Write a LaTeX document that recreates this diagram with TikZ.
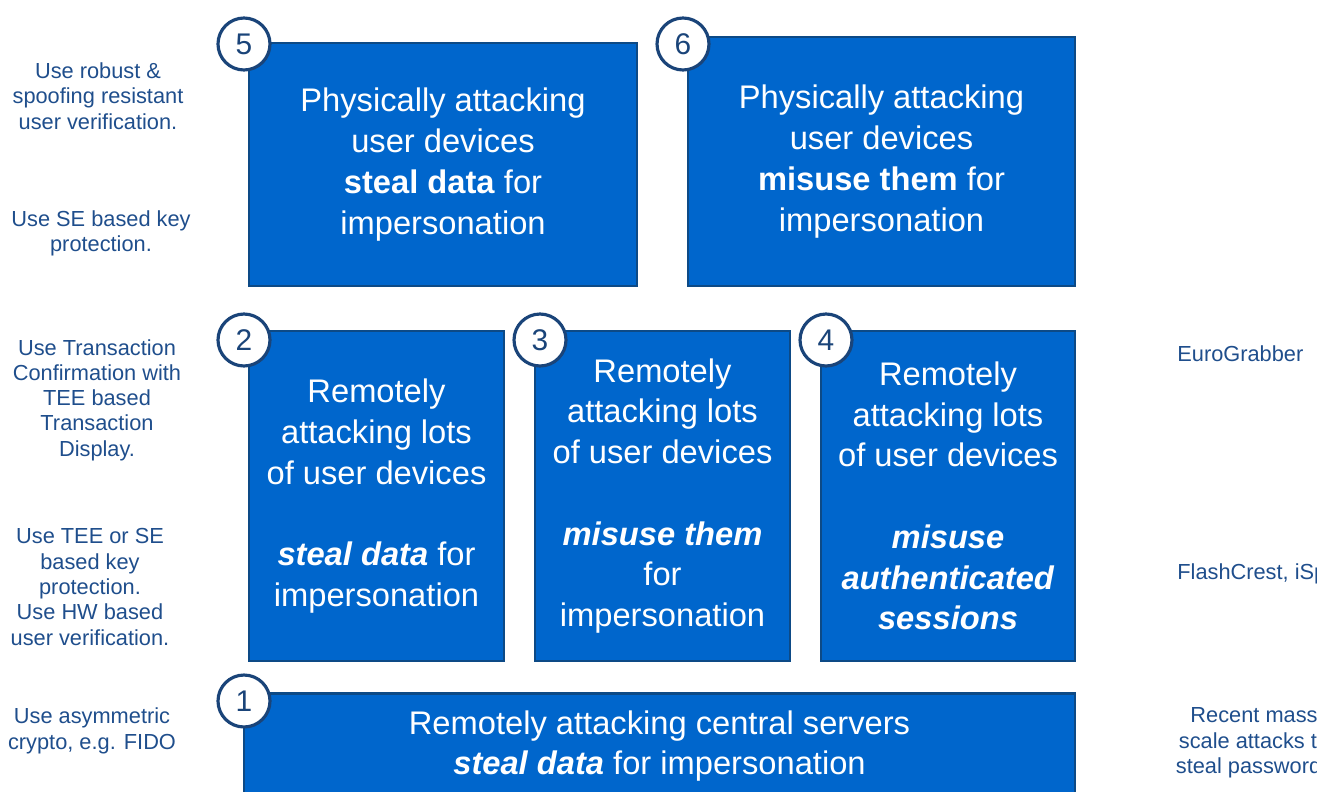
\documentclass[tikz,border=0pt]{standalone}
\usepackage{fontspec}
\setmainfont{Liberation Sans}
\definecolor{boxfill}{HTML}{0066CC}
\definecolor{boxline}{HTML}{0D4A86}
\definecolor{circline}{HTML}{1A4479}
\definecolor{sidetext}{HTML}{1F4E8C}
\tikzset{
  attack/.style={rectangle, draw=boxline, fill=boxfill, line width=1.6pt, inner sep=0pt,
    text=white, align=center, font=\fontsize{18.6}{23.2}\selectfont},
  numcirc/.style={circle, draw=circline, fill=white, line width=1.8pt, minimum size=1.04cm,
    inner sep=0pt, text=circline, font=\fontsize{17}{20}\selectfont},
  side/.style={align=center, text=sidetext, inner sep=0pt, font=\fontsize{12.4}{14.4}\selectfont}
}
\begin{document}
\begin{tikzpicture}[x=0.02cm, y=-0.02cm]
\useasboundingbox (0,0) rectangle (1317,791);
\clip (0,0) rectangle (1317,791);
\node[attack, minimum width=7.76cm, minimum height=4.86cm] (b5) at (443,164.5)
  {Physically attacking\\user devices\\\textbf{steal data} for\\impersonation};
\node[attack, minimum width=7.74cm, minimum height=4.98cm] (b6) at (881.5,161.5)
  {Physically attacking\\user devices\\\textbf{misuse them} for\\impersonation};
\node[attack, minimum width=5.1cm, minimum height=6.6cm] (b2) at (376.5,496)
  {Remotely\\attacking lots\\of user devices\\[23.2pt]\textbf{\textit{steal data}} for\\impersonation};
\node[attack, minimum width=5.1cm, minimum height=6.6cm] (b3) at (662.5,496)
  {Remotely\\attacking lots\\of user devices\\[23.2pt]\textbf{\textit{misuse them}}\\for\\impersonation};
\node[attack, minimum width=5.08cm, minimum height=6.6cm] (b4) at (948,496)
  {Remotely\\attacking lots\\of user devices\\[23.2pt]\textbf{\textit{misuse}}\\\textbf{\textit{authenticated}}\\\textbf{\textit{sessions}}};
\node[attack, minimum width=16.62cm, minimum height=2.1cm] (b1) at (659.5,746)
  {Remotely attacking central servers\\\textbf{\textit{steal data}} for impersonation};
\node[numcirc] (c5) at (244,44) {5};
\node[numcirc] (c6) at (683,44) {6};
\node[numcirc] (c2) at (244,340) {2};
\node[numcirc] (c3) at (540,340) {3};
\node[numcirc] (c4) at (826,340) {4};
\node[numcirc] (c1) at (244,701) {1};
\node[side] (s5a) at (98,96) {Use robust \&\\spoofing resistant\\user verification.};
\node[side] (s5b) at (101,233.5) {Use SE based key\\protection.};
\node[side] (s2a) at (97,400) {Use Transaction\\Confirmation with\\TEE based\\Transaction\\Display.};
\node[side] (s2b) at (90,587) {Use TEE or SE\\based key\\protection.\\Use HW based\\user verification.};
\node[side] (s1a) at (92,731) {Use asymmetric\\crypto, e.g. FIDO};
\node[side, anchor=west] (r4) at (1177,354) {EuroGrabber};
\node[side, anchor=west] (r3) at (1177,574) {FlashCrest, iSpy};
\node[side] (r1) at (1254,743) {Recent mass\\scale attacks to\\steal passwords};
\end{tikzpicture}
\end{document}
